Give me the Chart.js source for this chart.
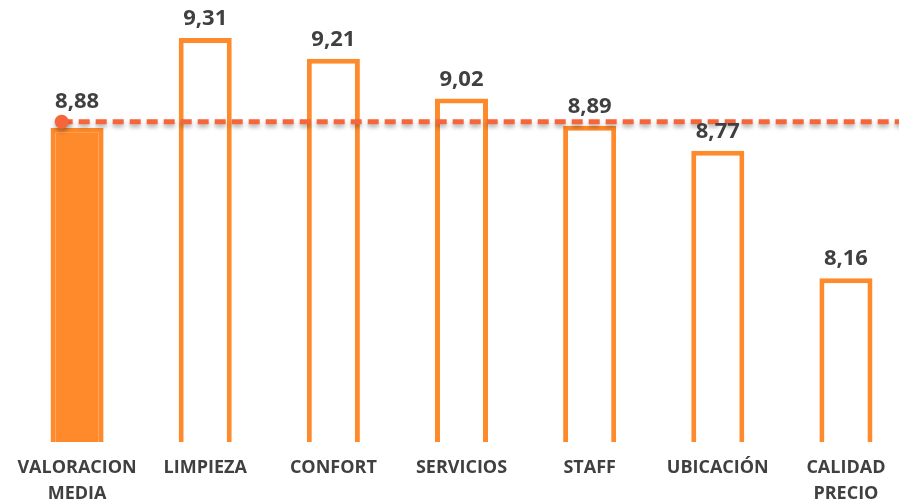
<!DOCTYPE html>
<html>
<head>
<meta charset="utf-8">
<script src="https://cdn.jsdelivr.net/npm/chart.js@4"></script>
<style>
  html, body { margin: 0; padding: 0; background: #fff; overflow: hidden; }
  #wrap { width: 923px; height: 503px; }
</style>
</head>
<body>
<div id="wrap"><canvas id="myChart" width="923" height="503"></canvas></div>
<script>
const categories = [['VALORACION', 'MEDIA'], 'LIMPIEZA', 'CONFORT', 'SERVICIOS', 'STAFF', 'UBICACIÓN', ['CALIDAD', 'PRECIO']];
const scores = [8.88, 9.31, 9.21, 9.02, 8.89, 8.77, 8.16];
const average = 8.88;
const averageFrom = -0.12;
const averageTo = 6.5;

const orange = '#FE8A2C';
const red = '#F7653B';
const textColor = '#404040';

const fmt = v => v.toFixed(2).replace('.', ',');

// value labels above bars (first one sits above the average line)
const labelsPlugin = {
  id: 'valueLabels',
  afterDatasetsDraw(chart) {
    const ctx = chart.ctx;
    const bars = chart.getDatasetMeta(0).data;
    const dot = chart.getDatasetMeta(1).data[0];
    ctx.save();
    ctx.font = 'bold 22px "Open Sans"';
    ctx.fillStyle = textColor;
    ctx.textAlign = 'center';
    ctx.textBaseline = 'alphabetic';
    bars.forEach((bar, i) => {
      let y = bar.y - 13;
      if (i === 0) y = Math.min(y, dot.y - 14);
      ctx.fillText(fmt(scores[i]), bar.x, y);
    });
    ctx.restore();
  }
};

const shadowPlugin = {
  id: 'lineShadow',
  beforeDatasetDraw(chart, args) {
    if (args.index !== 1) return;
    const ctx = chart.ctx;
    ctx.save();
    ctx.shadowColor = 'rgba(0,0,0,0.3)';
    ctx.shadowBlur = 4;
    ctx.shadowOffsetY = 3;
  },
  afterDatasetDraw(chart, args) {
    if (args.index !== 1) return;
    chart.ctx.restore();
  }
};

new Chart(document.getElementById('myChart').getContext('2d'), {
  type: 'bar',
  data: {
    labels: categories,
    datasets: [
      {
        data: scores,
        backgroundColor: scores.map((v, i) => i === 0 ? orange : '#ffffff'),
        borderColor: orange,
        borderWidth: 5,
        borderSkipped: false,
        grouped: false,
        categoryPercentage: 1,
        barPercentage: 0.414,
        order: 2
      },
      {
        type: 'line',
        data: [{ x: averageFrom, y: average }, { x: averageTo, y: average }],
        xAxisID: 'x2',
        yAxisID: 'y2',
        borderColor: red,
        borderWidth: 5,
        borderDash: [11, 6],
        pointRadius: [7, 0],
        pointBackgroundColor: red,
        pointBorderWidth: 0,
        order: 1
      }
    ]
  },
  options: {
    responsive: false,
    animation: false,
    layout: { padding: { left: 13, right: 13, top: 0, bottom: 0 } },
    plugins: { legend: { display: false }, tooltip: { enabled: false } },
    scales: {
      x: {
        grid: { display: false, drawTicks: false },
        border: { display: false },
        ticks: {
          padding: 13,
          color: textColor,
          maxRotation: 0,
          autoSkip: false,
          font: { family: 'Open Sans', size: 18, weight: 'bold', lineHeight: 1.45 }
        },
        afterFit(scale) { scale.height = 61; }
      },
      x2: { type: 'linear', display: false, offset: false, min: -0.5, max: 6.5 },
      y: { display: false, min: 7.377, max: 9.458 },
      y2: { display: false, min: 7.348, max: 9.429 }
    }
  },
  plugins: [labelsPlugin, shadowPlugin]
});
</script>
</body>
</html>
